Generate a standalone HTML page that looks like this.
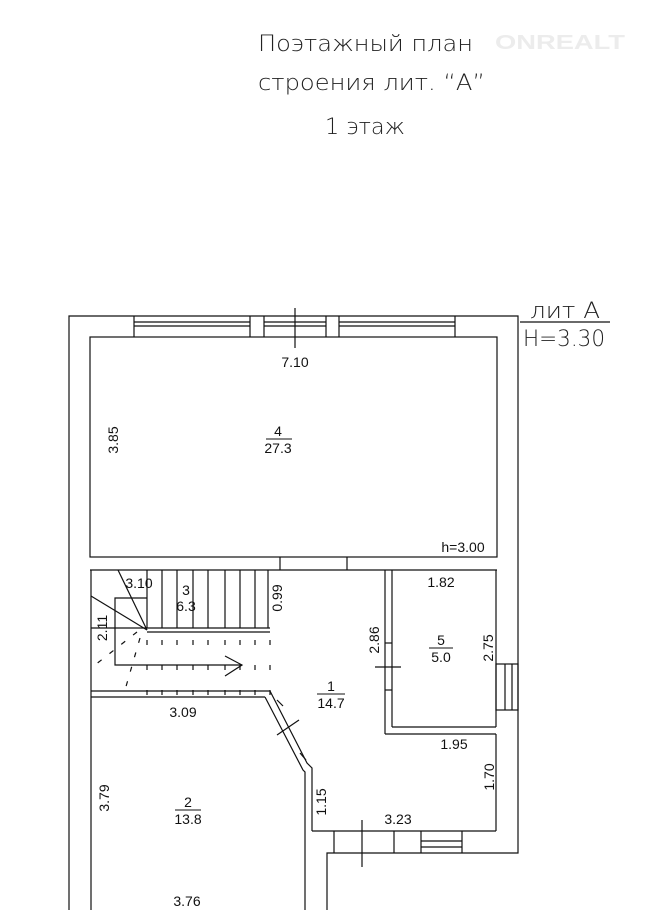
<!DOCTYPE html>
<html><head><meta charset="utf-8"><style>
html,body{margin:0;padding:0;background:#fff;width:646px;height:910px;overflow:hidden}
svg{display:block}
text{font-family:"Liberation Sans","DejaVu Sans",sans-serif;fill:#111}
.t{font-family:"DejaVu Sans ExtraLight","DejaVu Sans","Liberation Sans",sans-serif;font-weight:200;fill:#222}
.n{font-size:14px}
</style></head><body>
<svg width="646" height="910" viewBox="0 0 646 910" xmlns="http://www.w3.org/2000/svg">
<g stroke="#111" stroke-width="1.2" fill="none">
<polyline points="69,910 69,316 518,316 518,853 327,853 327,910"/>
<rect x="90" y="337" width="407" height="220"/>
<line x1="90" y1="570" x2="497" y2="570"/>
<line x1="280" y1="557" x2="280" y2="570"/>
<line x1="347" y1="557" x2="347" y2="570"/>
<line x1="134" y1="316" x2="134" y2="337"/><line x1="250" y1="316" x2="250" y2="337"/>
<line x1="264" y1="316" x2="264" y2="337"/><line x1="326" y1="316" x2="326" y2="337"/>
<line x1="339" y1="316" x2="339" y2="337"/><line x1="455" y1="316" x2="455" y2="337"/>
<line x1="134" y1="322" x2="250" y2="322"/><line x1="134" y1="326" x2="250" y2="326"/>
<line x1="264" y1="322" x2="326" y2="322"/><line x1="264" y1="326" x2="326" y2="326"/>
<line x1="339" y1="322" x2="455" y2="322"/><line x1="339" y1="326" x2="455" y2="326"/>
<line x1="295" y1="308" x2="295" y2="348"/>
<line x1="91" y1="570" x2="91" y2="910"/>
<line x1="385" y1="570" x2="385" y2="734"/>
<line x1="392" y1="570" x2="392" y2="727"/>
<line x1="392" y1="727" x2="496" y2="727"/>
<line x1="385" y1="734" x2="496" y2="734"/>
<line x1="496" y1="570" x2="496" y2="727"/>
<line x1="385" y1="643" x2="392" y2="643"/><line x1="385" y1="690" x2="392" y2="690"/>
<line x1="375" y1="667" x2="401" y2="667"/>
<rect x="496" y="664" width="22" height="46"/>
<line x1="505" y1="664" x2="505" y2="710"/><line x1="512" y1="664" x2="512" y2="710"/>
<line x1="496" y1="734" x2="496" y2="831"/>
<line x1="312" y1="831" x2="496" y2="831"/>
<line x1="334" y1="831" x2="334" y2="853"/><line x1="394" y1="831" x2="394" y2="853"/>
<line x1="421" y1="831" x2="421" y2="853"/><line x1="462" y1="831" x2="462" y2="853"/>
<line x1="421" y1="841" x2="462" y2="841"/><line x1="421" y1="847" x2="462" y2="847"/>
<line x1="362" y1="820" x2="362" y2="867"/>
<line x1="91" y1="628" x2="270" y2="628"/>
<line x1="147" y1="632" x2="270" y2="632"/>
<g>
<line x1="147" y1="570" x2="147" y2="628"/><line x1="162" y1="570" x2="162" y2="628"/>
<line x1="177" y1="570" x2="177" y2="628"/><line x1="193" y1="570" x2="193" y2="628"/>
<line x1="208" y1="570" x2="208" y2="628"/><line x1="225" y1="570" x2="225" y2="628"/>
<line x1="240" y1="570" x2="240" y2="628"/><line x1="255" y1="570" x2="255" y2="628"/>
<line x1="268" y1="570" x2="268" y2="628"/>
</g>
<polyline points="147,598 115,598 115,665 242,665"/>
<polyline points="225,656 242,665 225,676"/>
<line x1="118" y1="570" x2="147" y2="630"/>
<line x1="91" y1="596" x2="147" y2="630"/>
<g stroke-dasharray="5,20">
<line x1="147" y1="640" x2="147" y2="695"/><line x1="162" y1="640" x2="162" y2="695"/>
<line x1="177" y1="640" x2="177" y2="695"/><line x1="193" y1="640" x2="193" y2="695"/>
<line x1="208" y1="640" x2="208" y2="695"/><line x1="225" y1="640" x2="225" y2="695"/>
<line x1="240" y1="640" x2="240" y2="695"/><line x1="255" y1="640" x2="255" y2="695"/>
<line x1="270" y1="640" x2="270" y2="695"/>
</g>
<g stroke-dasharray="5,10">
<line x1="140" y1="638" x2="125" y2="690"/>
<line x1="137" y1="632" x2="95" y2="665"/>
</g>
<line x1="91" y1="691" x2="270" y2="691"/>
<line x1="91" y1="697" x2="265" y2="697"/>
<polyline points="270,691 307,763 312,768 312,831"/>
<polyline points="265,697 303,770 305,772 305,910"/>
<line x1="277" y1="700" x2="283" y2="706"/>
<line x1="300" y1="753" x2="306" y2="760"/>
<line x1="277" y1="735" x2="299" y2="720"/>
<line x1="520" y1="322" x2="610" y2="322"/>
</g>
<text class="t" x="258" y="51" font-size="22" textLength="215" lengthAdjust="spacingAndGlyphs">Поэтажный  план</text>
<text class="t" x="258" y="90" font-size="22" textLength="227" lengthAdjust="spacingAndGlyphs">строения лит. “А”</text>
<text class="t" x="325" y="134" font-size="22" textLength="80" lengthAdjust="spacingAndGlyphs">1 этаж</text>
<text x="495" y="49" font-size="20" font-weight="bold" style="fill:#ececec" textLength="130" lengthAdjust="spacingAndGlyphs">ONREALT</text>
<text class="t" x="530" y="318" font-size="22" textLength="70" lengthAdjust="spacingAndGlyphs">лит А</text>
<text class="t" x="523" y="346" font-size="22" textLength="82" lengthAdjust="spacingAndGlyphs">H=3.30</text>
<g class="n" text-anchor="middle">
<text x="295" y="367">7.10</text>
<text x="278" y="436">4</text><line x1="266" y1="439" x2="292" y2="439" stroke="#111"/>
<text x="278" y="453">27.3</text>
<text x="463" y="552">h=3.00</text>
<text x="139" y="588">3.10</text>
<text x="186" y="595">3</text><text x="186" y="611">6.3</text>
<text x="441" y="587">1.82</text>
<text x="441" y="645">5</text><line x1="429" y1="648" x2="453" y2="648" stroke="#111"/>
<text x="441" y="662">5.0</text>
<text x="331" y="691">1</text><line x1="317" y1="694" x2="345" y2="694" stroke="#111"/>
<text x="331" y="708">14.7</text>
<text x="183" y="717">3.09</text>
<text x="454" y="749">1.95</text>
<text x="188" y="807">2</text><line x1="175" y1="810" x2="201" y2="810" stroke="#111"/>
<text x="188" y="824">13.8</text>
<text x="398" y="824">3.23</text>
<text x="187" y="906">3.76</text>
<text transform="translate(118,440) rotate(-90)">3.85</text>
<text transform="translate(282,598) rotate(-90)">0.99</text>
<text transform="translate(107,628) rotate(-90)">2.11</text>
<text transform="translate(379,640) rotate(-90)">2.86</text>
<text transform="translate(493,648) rotate(-90)">2.75</text>
<text transform="translate(494,777) rotate(-90)">1.70</text>
<text transform="translate(109,798) rotate(-90)">3.79</text>
<text transform="translate(326,802) rotate(-90)">1.15</text>
</g>
</svg>
</body></html>
